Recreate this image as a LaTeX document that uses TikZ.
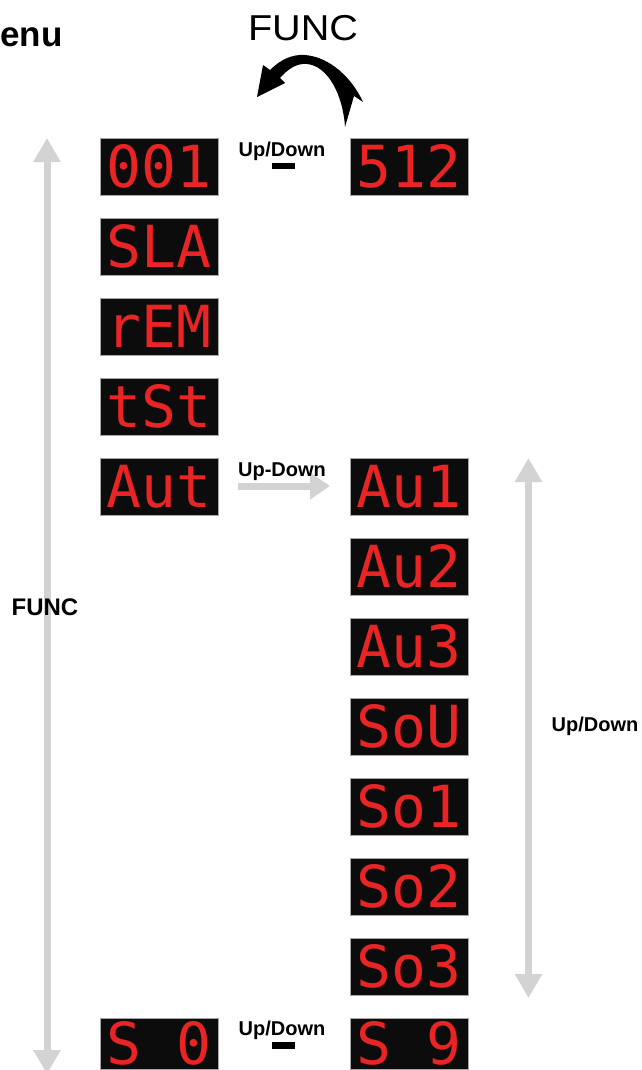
\documentclass[tikz,border=0pt]{standalone}
\usepackage{fontspec}
\setmainfont{Liberation Sans}
\newfontfamily\ledfont{DejaVu Sans Mono}
\usetikzlibrary{arrows.meta}
\definecolor{ledred}{RGB}{232,36,36}
\definecolor{arrowgray}{RGB}{211,211,211}
\definecolor{ledbg}{RGB}{12,12,12}
\begin{document}
\begin{tikzpicture}[x=1pt,y=-1pt,
  disp/.style={fill=ledbg, draw=gray!70, line width=0.8pt, minimum width=118pt, minimum height=57pt,
    inner sep=0pt, text=ledred, font=\ledfont\fontsize{58}{58}\selectfont, text height=42pt, text depth=0pt},
  lastdisp/.style={disp, minimum height=51pt},
  lbl/.style={font=\bfseries\fontsize{20}{20}\selectfont, inner sep=0pt, anchor=base},
  grayarrow/.style={draw=arrowgray, line width=7pt, {Triangle[length=24pt,width=26pt]}-{Triangle[length=24pt,width=26pt]}},
  onearrow/.style={draw=arrowgray, line width=7pt, -{Triangle[length=20pt,width=26pt]}},
  barbox/.style={fill=black, inner sep=0pt, minimum width=23pt, minimum height=6.5pt}
]
\useasboundingbox (0,0) rectangle (641,1070);
\clip (0,0) rectangle (641,1070);
\fill[white] (0,0) rectangle (641,1070);

% gray arrows
\coordinate (lt) at (47,138);
\coordinate (lb) at (47,1074);
\draw[grayarrow] (lt) -- (lb);
\coordinate (rt) at (528.5,458);
\coordinate (rb) at (528.5,998);
\draw[grayarrow] (rt) -- (rb);
\coordinate (ma) at (238,486);
\coordinate (mb) at (330,486);
\draw[onearrow] (ma) -- (mb);

% displays, left column
\node[disp] (d001) at (159,166.5) {001};
\node[disp] (dsla) at (159,246.5) {SLA};
\node[disp] (drem) at (159,326.5) {rEM};
\node[disp] (dtst) at (159,406.5) {tSt};
\node[disp] (daut) at (159,486.5) {Aut};
\node[lastdisp] (ds0) at (159,1043.5) {S 0};

% displays, right column
\node[disp] (d512) at (409,166.5) {512};
\node[disp] (dau1) at (409,486.5) {Au1};
\node[disp] (dau2) at (409,566.5) {Au2};
\node[disp] (dau3) at (409,646.5) {Au3};
\node[disp] (dsou) at (409,726.5) {SoU};
\node[disp] (dso1) at (409,806.5) {So1};
\node[disp] (dso2) at (409,886.5) {So2};
\node[disp] (dso3) at (409,966.5) {So3};
\node[lastdisp] (ds9) at (409,1043.5) {S 9};

% labels
\node[anchor=base west, inner sep=0pt, font=\bfseries\fontsize{35}{35}\selectfont] (menu) at (0,47) {enu};
\node[anchor=base, inner sep=0pt, font=\fontsize{36}{36}\selectfont, xscale=1.1] (functop) at (303,41) {FUNC};
\node[lbl] (ud1) at (282,157) {Up/Down};
\node[barbox] (bar1) at (283.5,166) {};
\node[lbl] (ud2) at (282,476) {Up-Down};
\node[lbl] (ud3) at (282,1035) {Up/Down};
\node[barbox] (bar3) at (283.5,1045.5) {};
\node[lbl] (ud4) at (595,731) {Up/Down};
\node[lbl, font=\bfseries\fontsize{24}{24}\selectfont] (funcl) at (45,615) {FUNC};

% curved black arrow
\fill[black] (270,70) .. controls (280,60) and (292,54) .. (305,55)
  .. controls (330,57) and (352,78) .. (363,102)
  -- (354,96) -- (345,127)
  .. controls (343,95) and (328,66) .. (307,64)
  .. controls (296,63) and (287,70) .. (280,78)
  -- (285,83) -- (257,97) -- (263,65) -- cycle;
\end{tikzpicture}
\end{document}
